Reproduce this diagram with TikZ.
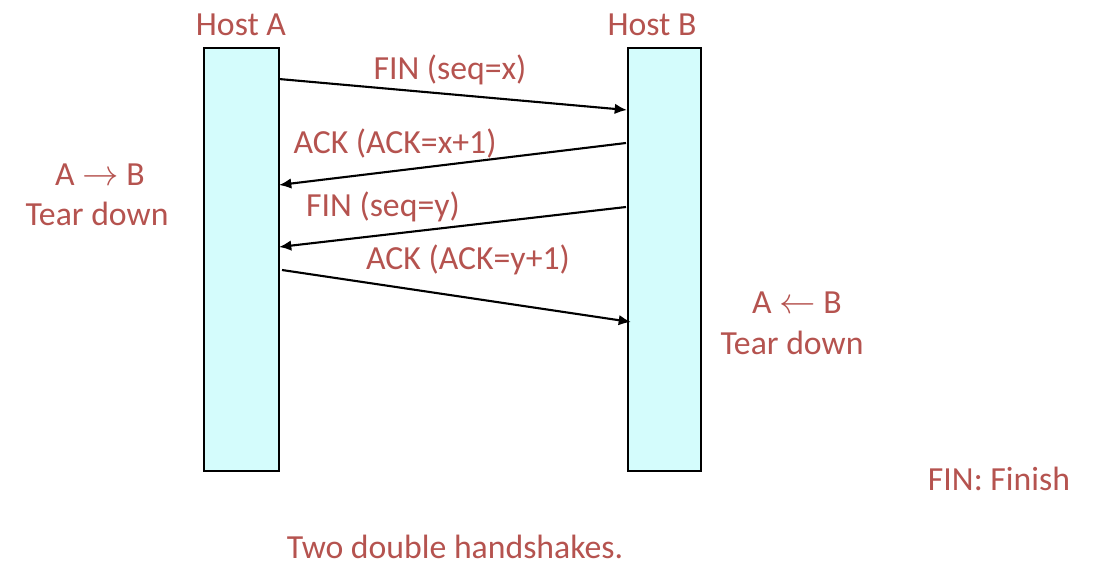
\documentclass[tikz,border=0pt]{standalone}
\usepackage{fontspec}
\setmainfont{Carlito}
\usetikzlibrary{arrows.meta}
\definecolor{txt}{HTML}{B5534F}
\definecolor{boxfill}{HTML}{D4FCFC}
\begin{document}
\begin{tikzpicture}[x=0.02cm,y=-0.02cm,
  lbl/.style={text=txt,font=\fontsize{19.2}{23}\selectfont,inner sep=0pt,anchor=center},
  host/.style={draw=black,line width=1pt,fill=boxfill,inner sep=0pt,minimum width=1.5cm,minimum height=8.46cm,anchor=north west},
  msg/.style={draw=black,line width=1.2pt,-{Latex[length=7pt,width=6pt]}}]
\useasboundingbox (0,0) rectangle (1100,572);
\node[host] (hostA) at (203,47) {};
\node[host,minimum width=1.46cm] (hostB) at (627,47) {};
\node[lbl] (labA) at (241,25) {Host A};
\node[lbl] (labB) at (652,25) {Host B};
\coordinate (a1) at (279,79);
\coordinate (b1) at (627,110);
\coordinate (b2) at (626,143);
\coordinate (a2) at (279,185);
\coordinate (b3) at (626,207);
\coordinate (a3) at (279,247);
\coordinate (a4) at (282,270);
\coordinate (b4) at (631,322);
\draw[msg] (a1) -- (b1);
\draw[msg] (b2) -- (a2);
\draw[msg] (b3) -- (a3);
\draw[msg] (a4) -- (b4);
\node[lbl] (m1) at (450,70) {FIN (seq=x)};
\node[lbl] (m2) at (395,143) {ACK (ACK=x+1)};
\node[lbl] (m3) at (383,207) {FIN (seq=y)};
\node[lbl] (m4) at (468,260) {ACK (ACK=y+1)};
\node[lbl] (l1) at (100,175) {A $\rightarrow$ B};
\node[lbl] (l2) at (97,214) {Tear down};
\node[lbl] (r1) at (797,303) {A $\leftarrow$ B};
\node[lbl] (r2) at (792,343) {Tear down};
\node[lbl] (fin) at (999,479) {FIN: Finish};
\node[lbl] (two) at (455,547) {Two double handshakes.};
\end{tikzpicture}
\end{document}
